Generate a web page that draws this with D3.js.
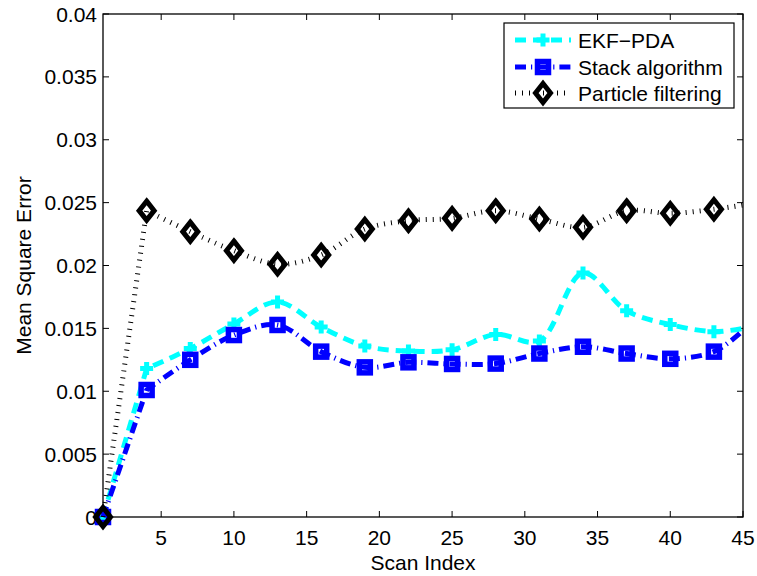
<!DOCTYPE html>
<html><head><meta charset="utf-8">
<script src="https://cdn.jsdelivr.net/npm/d3@7"></script>
<style>body{margin:0;background:#fff}svg{display:block}text{font-family:"Liberation Sans",Arial,sans-serif}</style>
</head><body>
<svg id="c" width="757" height="576"></svg>
<script>
const scanIndex = [1,4,7,10,13,16,19,22,25,28,31,34,37,40,43,45];
const ekfPDA   = [0,0.0118,0.0134,0.01535,0.0171,0.0151,0.0136,0.0132,0.0133,0.01452,0.0140,0.0194,0.0164,0.0153,0.01474,0.0150];
const stackAlg = [0,0.0101,0.0125,0.01447,0.01527,0.01315,0.0119,0.0123,0.01217,0.0122,0.0130,0.01354,0.0130,0.01258,0.01315,0.01482];
const particle = [0,0.02436,0.02269,0.02118,0.0201,0.02083,0.0229,0.02356,0.02375,0.02436,0.0237,0.02304,0.02436,0.02415,0.02447,0.0248];
const xTicks = [5,10,15,20,25,30,35,40,45];
const yTicks = [0,0.005,0.01,0.015,0.02,0.025,0.03,0.035,0.04];
const yTickLabels = ["0","0.005","0.01","0.015","0.02","0.025","0.03","0.035","0.04"];
const seriesNames = ["EKF\u2212PDA","Stack algorithm","Particle filtering"];

const svg = d3.select("#c");
const L=103,R=743,T=14,B=517;
const x = d3.scaleLinear().domain([1,45]).range([L,R]);
const y = d3.scaleLinear().domain([0,0.04]).range([B,T]);
const fs = 21;

const series = [
  {name:seriesNames[0], vals:ekfPDA, color:"#00ffff", width:5, dash:"11,7", marker:"plus"},
  {name:seriesNames[1], vals:stackAlg, color:"#0000ff", width:5, dash:"11,5,1.2,5", marker:"square"},
  {name:seriesNames[2], vals:particle, color:"#000000", width:5, dash:"1,6", marker:"diamond"}
];

function drawMarker(g, type, cx, cy, color){
  if(type==="plus"){
    g.append("path").attr("d",`M${cx-6.5},${cy}H${cx+6.5}M${cx},${cy-6.5}V${cy+6.5}`)
      .attr("stroke",color).attr("stroke-width",5).attr("fill","none");
  } else if(type==="square"){
    g.append("rect").attr("x",cx-5.5).attr("y",cy-5.5).attr("width",11).attr("height",11)
      .attr("stroke",color).attr("stroke-width",5.5).attr("fill","none");
  } else {
    g.append("path").attr("d",`M${cx},${cy-9.5}L${cx+7.5},${cy}L${cx},${cy+9.5}L${cx-7.5},${cy}Z`)
      .attr("stroke",color).attr("stroke-width",5).attr("fill","none").attr("stroke-linejoin","miter");
  }
}

// axes box
svg.append("rect").attr("x",L).attr("y",T).attr("width",R-L).attr("height",B-T)
  .attr("fill","none").attr("stroke","#000").attr("stroke-width",1.3);

// ticks (inward, all four sides)
const tk = svg.append("g").attr("stroke","#000").attr("stroke-width",1);
xTicks.forEach(v=>{
  tk.append("line").attr("x1",x(v)).attr("x2",x(v)).attr("y1",B).attr("y2",B-6);
  tk.append("line").attr("x1",x(v)).attr("x2",x(v)).attr("y1",T).attr("y2",T+6);
});
yTicks.forEach(v=>{
  tk.append("line").attr("x1",L).attr("x2",L+6).attr("y1",y(v)).attr("y2",y(v));
  tk.append("line").attr("x1",R).attr("x2",R-6).attr("y1",y(v)).attr("y2",y(v));
});
xTicks.forEach(v=>{
  svg.append("text").attr("x",x(v)).attr("y",537).attr("text-anchor","middle")
    .attr("dominant-baseline","central").attr("font-size",fs).text(v);
});
yTicks.forEach((v,i)=>{
  svg.append("text").attr("x",97).attr("y",y(v)).attr("text-anchor","end")
    .attr("dominant-baseline","central").attr("font-size",fs).text(yTickLabels[i]);
});
svg.append("text").attr("x",(L+R)/2).attr("y",562).attr("text-anchor","middle")
  .attr("dominant-baseline","central").attr("font-size",fs).text("Scan Index");
svg.append("text").attr("transform",`translate(23,${(T+B)/2}) rotate(-90)`).attr("text-anchor","middle")
  .attr("dominant-baseline","central").attr("font-size",fs).text("Mean Square Error");

// series: straight first segment, smooth afterwards (one continuous path)
const lineStraight = d3.line().x(d=>x(d[0])).y(d=>y(d[1]));
const lineSmooth = d3.line().x(d=>x(d[0])).y(d=>y(d[1])).curve(d3.curveCatmullRom.alpha(0.5));
series.forEach(s=>{
  const g = svg.append("g");
  const pts = scanIndex.map((xi,i)=>[xi,s.vals[i]]);
  const first = lineStraight(pts.slice(0,2));
  const rest = lineSmooth(pts.slice(1)).replace(/^M[^CL]*/, "");
  g.append("path").attr("d",first + rest).attr("fill","none").attr("stroke",s.color)
    .attr("stroke-width",s.width).attr("stroke-dasharray",s.dash);
  pts.slice(0,-1).forEach(p=>drawMarker(g,s.marker,x(p[0]),y(p[1]),s.color));
});

// legend
const lg = svg.append("g");
lg.append("rect").attr("x",504).attr("y",23).attr("width",230).attr("height",85)
  .attr("fill","#fff").attr("stroke","#000").attr("stroke-width",1.2);
const rowsY=[40,67,93];
series.forEach((s,i)=>{
  lg.append("line").attr("x1",515).attr("x2",571).attr("y1",rowsY[i]).attr("y2",rowsY[i])
    .attr("stroke",s.color).attr("stroke-width",s.width).attr("stroke-dasharray",s.dash);
  drawMarker(lg,s.marker,543,rowsY[i],s.color);
  lg.append("text").attr("x",578).attr("y",rowsY[i]).attr("dominant-baseline","central")
    .attr("font-size",fs).text(s.name);
});
</script>
</body></html>
